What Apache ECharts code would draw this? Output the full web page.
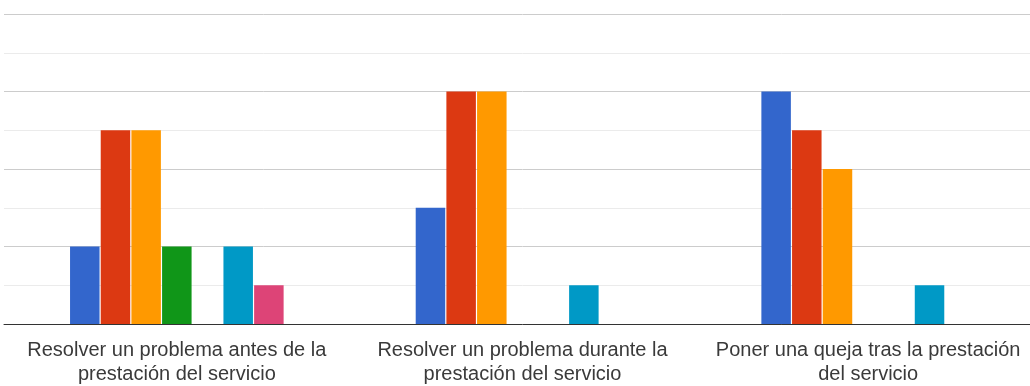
<!DOCTYPE html>
<html>
<head>
<meta charset="utf-8">
<script src="https://cdn.jsdelivr.net/npm/echarts@6/dist/echarts.min.js"></script>
<style>html,body{margin:0;padding:0;background:#fff;overflow:hidden;width:1030px;height:386px;}#c{width:1041px;height:386px;}</style>
</head>
<body>
<div id="c"></div>
<script>
var categories = [
  "Resolver un problema antes de la\nprestación del servicio",
  "Resolver un problema durante la\nprestación del servicio",
  "Poner una queja tras la prestación\ndel servicio"
];
var seriesNames = ["1", "2", "3", "4", "5", "6", "7"];
var seriesColors = ["#3366cc", "#dc3912", "#ff9900", "#109618", "#990099", "#0099c6", "#dd4477"];
var s1 = [2, 3, 6];
var s2 = [5, 6, 5];
var s3 = [5, 6, 4];
var s4 = [2, 0, 0];
var s5 = [0, 0, 0];
var s6 = [2, 1, 1];
var s7 = [1, 0, 0];
var allSeries = [s1, s2, s3, s4, s5, s6, s7];

var chart = echarts.init(document.getElementById('c'), null, {renderer: 'canvas'});
chart.setOption({
  animation: false,
  legend: {show: false},
  grid: {left: 4, right: 0, top: 14, bottom: 60, containLabel: false},
  xAxis: {
    type: 'category',
    data: categories,
    axisLine: {show: true, lineStyle: {color: '#333', width: 1}},
    axisTick: {show: false},
    splitLine: {show: false},
    axisLabel: {
      margin: 14,
      fontFamily: 'Liberation Sans, Arial, sans-serif',
      fontSize: 20,
      lineHeight: 24,
      color: '#3a3a3a',
      interval: 0
    }
  },
  yAxis: {
    type: 'value',
    min: 0, max: 8, interval: 1,
    axisLabel: {show: false},
    axisLine: {show: false},
    axisTick: {show: false},
    splitLine: {show: true, lineStyle: {color: ['#cccccc', '#ebebeb'], width: 1}}
  },
  series: allSeries.map(function (d, i) {
    return {
      name: seriesNames[i],
      type: 'bar',
      data: d,
      barWidth: 29.5,
      barGap: '4%',
      itemStyle: {color: seriesColors[i]}
    };
  })
});
</script>
</body>
</html>
